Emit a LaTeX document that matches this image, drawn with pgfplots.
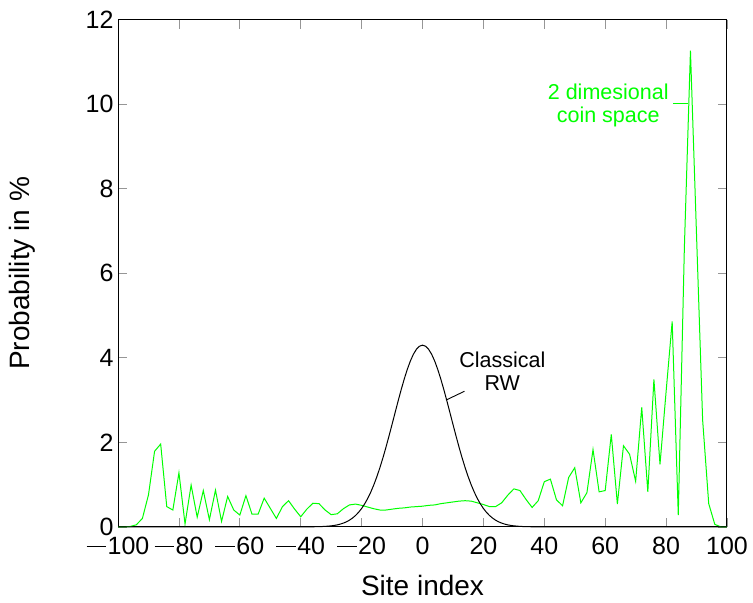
\documentclass[border=0pt]{standalone}
\usepackage{fontspec}
\setmainfont{Liberation Sans}
\usepackage{pgfplots}
\pgfplotsset{compat=1.18}
\definecolor{pgreen}{RGB}{0,255,0}
\definecolor{tickgray}{RGB}{150,150,150}
\newcommand\mn{\rule[0.31em]{0.78em}{0.065em}\hspace{0.06em}}

\pgfplotstableread{
x y
-100 0
-98 0
-96 0.01
-94 0.05
-92 0.2
-90 0.76
-88 1.79
-86 1.96
-84 0.48
-82 0.40
-80 1.28
-78 0.07
-76 0.99
-74 0.23
-72 0.86
-70 0.17
-68 0.87
-66 0.13
-64 0.72
-62 0.40
-60 0.28
-58 0.74
-56 0.30
-54 0.30
-52 0.68
-50 0.44
-48 0.20
-46 0.48
-44 0.62
-42 0.42
-40 0.24
-38 0.42
-36 0.56
-34 0.55
-32 0.40
-30 0.29
-28 0.31
-26 0.43
-24 0.52
-22 0.54
-20 0.51
-18 0.47
-16 0.43
-14 0.40
-12 0.40
-10 0.42
-8 0.44
-6 0.45
-4 0.47
-2 0.48
0 0.49
2 0.51
4 0.52
6 0.55
8 0.57
10 0.59
12 0.61
14 0.62
16 0.61
18 0.57
20 0.53
22 0.48
24 0.48
26 0.57
28 0.75
30 0.90
32 0.86
34 0.65
36 0.46
38 0.62
40 1.07
42 1.13
44 0.64
46 0.50
48 1.17
50 1.40
52 0.57
54 0.81
56 1.83
58 0.83
60 0.86
62 2.19
64 0.54
66 1.92
68 1.72
70 1.08
72 2.83
74 0.83
76 3.49
78 1.48
80 3.20
82 4.86
84 0.28
86 6.60
88 11.27
90 6.90
92 2.53
94 0.55
96 0.06
98 0
100 0
}\quantum

\pgfplotstableread{
x y
-100 0
-40 0
-38 0.001
-36 0.003
-34 0.006
-32 0.012
-30 0.025
-29 0.035
-28 0.048
-27 0.066
-26 0.090
-25 0.120
-24 0.159
-23 0.209
-22 0.270
-21 0.345
-20 0.436
-19 0.545
-18 0.674
-17 0.823
-16 0.994
-15 1.187
-14 1.401
-13 1.635
-12 1.887
-11 2.152
-10 2.427
-9 2.705
-8 2.982
-7 3.249
-6 3.500
-5 3.727
-4 3.924
-3 4.084
-2 4.203
-1 4.275
0 4.300
1 4.275
2 4.203
3 4.084
4 3.924
5 3.727
6 3.500
7 3.249
8 2.982
9 2.705
10 2.427
11 2.152
12 1.887
13 1.635
14 1.401
15 1.187
16 0.994
17 0.823
18 0.674
19 0.545
20 0.436
21 0.345
22 0.270
23 0.209
24 0.159
25 0.120
26 0.090
27 0.066
28 0.048
29 0.035
30 0.025
32 0.012
34 0.006
36 0.003
38 0.001
40 0
100 0
}\classical

\begin{document}
\begin{tikzpicture}
\useasboundingbox (-118pt,-75.3pt) rectangle (634.7pt,526.7pt);
\begin{axis}[
  scale only axis,
  width=608.7pt, height=507pt,
  xmin=-100, xmax=100, ymin=0, ymax=12,
  xtick={-100,-80,...,100},
  xticklabels={\mn100,\mn80,\mn60,\mn40,\mn20,0,20,40,60,80,100},
  ytick={0,2,...,12},
  yticklabels={0,2,4,6,8,10,12},
  tick align=inside,
  major tick length=9pt,
  tick style={tickgray, line width=0.8pt},
  axis line style={line width=1pt, black},
  ticklabel style={font=\fontsize{25}{30}\selectfont},
  xticklabel style={yshift=-7pt},
  yticklabel style={xshift=-1pt},
  label style={font=\fontsize{28}{32}\selectfont},
  xlabel={Site index},
  ylabel={Probability in \%},
  xlabel style={at={(axis description cs:0.5,-0.115)}, anchor=center},
  ylabel style={at={(axis description cs:-0.1577,0.5)}, anchor=center},
  clip=false,
]
\addplot[pgreen, line width=1pt] table[x=x,y=y] {\quantum};
\addplot[black, line width=1pt] table[x=x,y=y] {\classical};
\node[align=center, font=\fontsize{21.5}{23.5}\selectfont] at (axis cs:26.2,3.68) {Classical\\RW};
\draw[black, line width=0.9pt] (axis cs:13.8,3.21) -- (axis cs:7.7,3.0);
\node[align=center, text=pgreen, font=\fontsize{21.5}{23.5}\selectfont] at (axis cs:61.0,9.97) {2 dimesional\\coin space};
\draw[pgreen, line width=1.2pt] (axis cs:82.2,10.02) -- (axis cs:87.2,10.02);
\end{axis}
\end{tikzpicture}
\end{document}
